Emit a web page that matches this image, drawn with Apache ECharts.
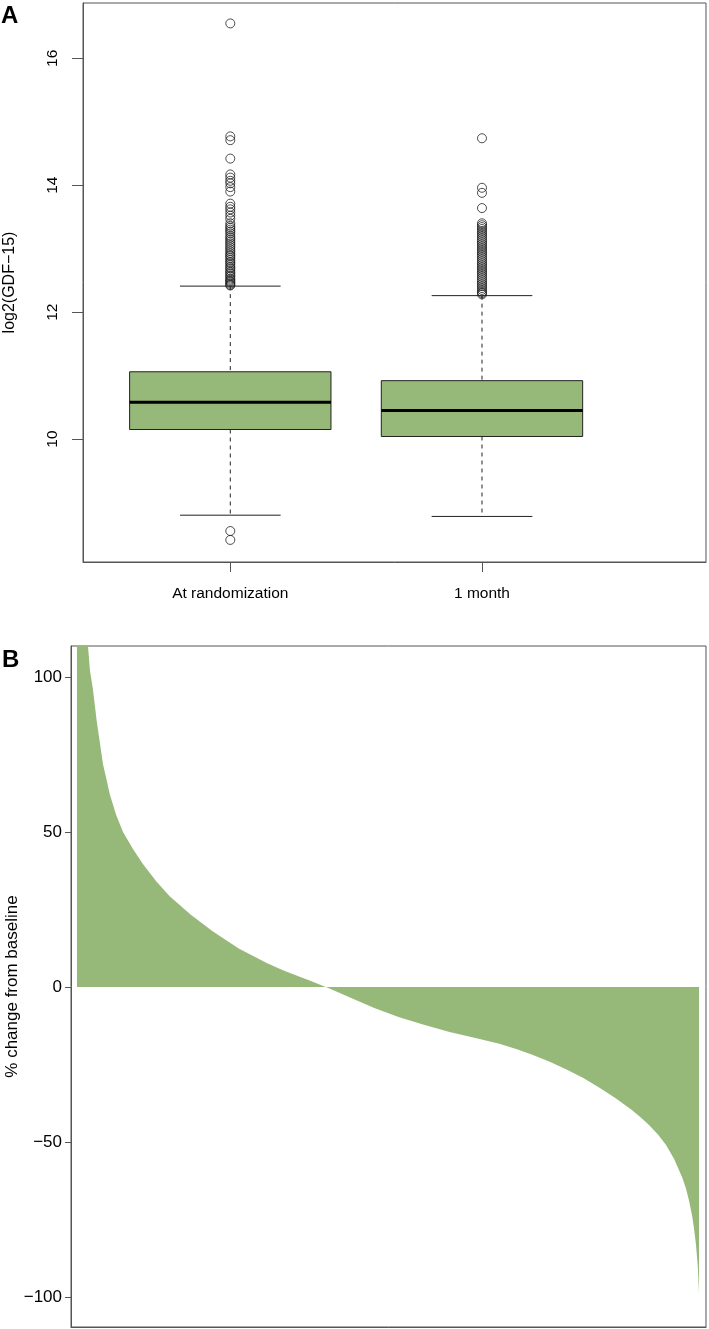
<!DOCTYPE html>
<html>
<head>
<meta charset="utf-8">
<script src="https://cdn.jsdelivr.net/npm/echarts@6/dist/echarts.min.js"></script>
<style>
html,body{margin:0;padding:0;background:#fff;}
#chart{width:709px;height:1329px;}
</style>
</head>
<body>
<div id="chart"></div>
<script>
// ---------- Panel A: log2(GDF-15) box plots ----------
const groupNames = ['At randomization', '1 month'];
const groupPos = [1, 2];
const lowerWhisker = [8.80, 8.78];
const q1 = [10.15, 10.04];
const median = [10.58, 10.45];
const q3 = [11.06, 10.92];
const upperWhisker = [12.41, 12.26];
const yTicksA = [10, 12, 14, 16];

const outliersRandomization = [16.55, 14.77, 14.71, 14.42, 14.17, 14.12, 14.07, 14.03, 13.97, 13.90,
  13.71, 13.66, 13.62, 13.57, 13.52, 13.47, 13.40, 13.36, 13.33, 13.30, 13.27, 13.24, 13.20,
  13.17, 13.14, 13.11, 13.08, 13.05, 13.02, 12.99, 12.96, 12.93, 12.90, 12.88, 12.85, 12.82,
  12.79, 12.77, 12.74, 12.71, 12.69, 12.66, 12.63, 12.61, 12.58, 12.56, 12.53, 12.51, 12.49,
  12.47, 12.45, 12.43, 12.42, 8.55, 8.41];
const outliers1Month = [14.74, 13.96, 13.88, 13.64, 13.40, 13.37, 13.34, 13.31, 13.28, 13.25,
  13.22, 13.19, 13.16, 13.13, 13.10, 13.07, 13.04, 13.01, 12.98, 12.95, 12.92, 12.89, 12.86,
  12.83, 12.80, 12.77, 12.74, 12.71, 12.68, 12.65, 12.62, 12.59, 12.56, 12.53, 12.50, 12.47,
  12.44, 12.41, 12.38, 12.35, 12.32, 12.30, 12.28];

// ---------- Panel B: sorted % change from baseline (rank as fraction of patients) ----------
const rankFraction = [0, 0.0048, 0.011, 0.0177, 0.0209, 0.0257, 0.0316, 0.0417, 0.053, 0.063,
  0.074, 0.090, 0.106, 0.127, 0.149, 0.183, 0.218, 0.260, 0.305, 0.332, 0.358, 0.374, 0.387,
  0.406, 0.438, 0.478, 0.518, 0.559, 0.599, 0.639, 0.679, 0.706, 0.732, 0.760, 0.787, 0.814,
  0.840, 0.866, 0.892, 0.906, 0.920, 0.934, 0.947, 0.960, 0.973, 0.979, 0.984, 0.989, 0.992,
  0.995, 0.998, 1.0];
const pctChange = [250, 160, 125, 110, 102, 96, 86, 72, 62, 55.5,
  50, 44.5, 39.7, 34.2, 29.3, 23.3, 18, 12.4, 7.7, 5.3, 3.3, 2.1, 1.0,
  -0.5, -3.3, -6.8, -9.8, -12.3, -14.5, -16.4, -18.3, -20.0, -21.9, -24.1, -26.6, -29.4,
  -32.5, -35.9, -39.7, -42, -44.6, -47.6, -51, -55.5, -61.5, -65, -69, -74, -78,
  -83, -90, -99];
const yTicksB = [-100, -50, 0, 50, 100];

const GREEN = '#96b878';
const AXIS_GRAY = '#555555';
const FONT = '"Liberation Sans", Arial, Helvetica, sans-serif';

const boxData = groupPos.map((p, i) => [p, lowerWhisker[i], q1[i], median[i], q3[i], upperWhisker[i]]);
const outlierData = [];
outliersRandomization.forEach(v => outlierData.push([groupPos[0], v]));
outliers1Month.forEach(v => outlierData.push([groupPos[1], v]));
const waterfall = rankFraction.map((r, i) => [r, pctChange[i]]);

const chart = echarts.init(document.getElementById('chart'), null, {renderer: 'canvas'});

const option = {
  animation: false,
  backgroundColor: '#ffffff',
  textStyle: {fontFamily: FONT},
  grid: [
    {left: 83, top: 3, width: 623, height: 559, containLabel: false, outerBoundsMode: 'none',
      show: true, borderColor: AXIS_GRAY, borderWidth: 1, backgroundColor: 'transparent'},
    {left: 71, top: 646, width: 635, height: 681, containLabel: false, outerBoundsMode: 'none',
      show: true, borderColor: AXIS_GRAY, borderWidth: 1, backgroundColor: 'transparent'}
  ],
  xAxis: [
    {
      type: 'value', gridIndex: 0, min: 0.4148, max: 2.890,
      splitLine: {show: false},
      axisLine: {show: true, onZero: false, lineStyle: {color: AXIS_GRAY, width: 1}},
      axisTick: {show: true, length: 10, customValues: groupPos, lineStyle: {color: AXIS_GRAY}},
      axisLabel: {
        show: true, customValues: groupPos, margin: 24, fontSize: 15.5, color: '#000',
        fontFamily: FONT,
        formatter: v => { const i = groupPos.indexOf(Math.round(v)); return i >= 0 ? groupNames[i] : ''; }
      }
    },
    {
      type: 'value', gridIndex: 1, min: -0.0096, max: 1.0112,
      splitLine: {show: false},
      axisLine: {show: true, onZero: false, lineStyle: {color: AXIS_GRAY, width: 1}},
      axisTick: {show: false}, axisLabel: {show: false}
    }
  ],
  yAxis: [
    {
      type: 'value', gridIndex: 0, min: 8.062, max: 16.872,
      name: 'log2(GDF\u221215)', nameLocation: 'middle', nameRotate: 90, nameGap: 65,
      nameMoveOverlap: false,
      nameTextStyle: {fontSize: 16, color: '#000', fontFamily: FONT},
      splitLine: {show: false},
      axisLine: {show: true, onZero: false, lineStyle: {color: AXIS_GRAY, width: 1}},
      axisTick: {show: true, length: 11, customValues: yTicksA, lineStyle: {color: AXIS_GRAY}},
      axisLabel: {show: true, customValues: yTicksA, rotate: 90, margin: 22, fontSize: 15.5, color: '#000', fontFamily: FONT}
    },
    {
      type: 'value', gridIndex: 1, min: -109.7, max: 110,
      name: '% change from baseline', nameLocation: 'middle', nameRotate: 90, nameGap: 50,
      nameMoveOverlap: false,
      nameTextStyle: {fontSize: 17, color: '#000', fontFamily: FONT},
      splitLine: {show: false},
      axisLine: {show: true, onZero: false, lineStyle: {color: AXIS_GRAY, width: 1}},
      axisTick: {show: true, length: 6, customValues: yTicksB, lineStyle: {color: AXIS_GRAY}},
      axisLabel: {
        show: true, customValues: yTicksB, margin: 9, fontSize: 17, color: '#000', fontFamily: FONT,
        formatter: v => (v < 0 ? '\u2212' + Math.abs(v) : String(v))
      }
    }
  ],
  graphic: [
    {type: 'text', left: 1, top: 4, style: {text: 'A', font: 'bold 24px ' + FONT, fill: '#000'}},
    {type: 'text', left: 2, top: 648, style: {text: 'B', font: 'bold 24px ' + FONT, fill: '#000'}}
  ],
  series: [
    {
      type: 'custom', xAxisIndex: 0, yAxisIndex: 0, data: boxData, z: 3,
      encode: {x: 0, y: [1, 2, 3, 4, 5]},
      renderItem: function (params, api) {
        const x = api.value(0);
        const pLo = api.coord([x, api.value(1)]);
        const pQ1 = api.coord([x, api.value(2)]);
        const pMed = api.coord([x, api.value(3)]);
        const pQ3 = api.coord([x, api.value(4)]);
        const pHi = api.coord([x, api.value(5)]);
        const halfBox = api.size([0.4, 0])[0];
        const halfCap = api.size([0.2, 0])[0];
        const dash = {stroke: '#222', lineWidth: 1, lineDash: [4, 4]};
        const solid = {stroke: '#222', lineWidth: 1};
        return {
          type: 'group',
          children: [
            {type: 'line', shape: {x1: pHi[0], y1: pHi[1], x2: pQ3[0], y2: pQ3[1]}, style: dash},
            {type: 'line', shape: {x1: pQ1[0], y1: pQ1[1], x2: pLo[0], y2: pLo[1]}, style: dash},
            {type: 'line', shape: {x1: pHi[0] - halfCap, y1: pHi[1], x2: pHi[0] + halfCap, y2: pHi[1]}, style: solid},
            {type: 'line', shape: {x1: pLo[0] - halfCap, y1: pLo[1], x2: pLo[0] + halfCap, y2: pLo[1]}, style: solid},
            {type: 'rect', shape: {x: pQ3[0] - halfBox, y: pQ3[1], width: halfBox * 2, height: pQ1[1] - pQ3[1]},
              style: {fill: GREEN, stroke: '#222', lineWidth: 1}},
            {type: 'line', shape: {x1: pMed[0] - halfBox, y1: pMed[1], x2: pMed[0] + halfBox, y2: pMed[1]},
              style: {stroke: '#000', lineWidth: 3.2}}
          ]
        };
      }
    },
    {
      type: 'scatter', xAxisIndex: 0, yAxisIndex: 0, data: outlierData, z: 4,
      symbol: 'circle', symbolSize: 9,
      itemStyle: {color: 'rgba(0,0,0,0)', borderColor: '#222', borderWidth: 1}
    },
    {
      type: 'line', xAxisIndex: 1, yAxisIndex: 1, data: waterfall, z: 2,
      showSymbol: false, symbol: 'none', smooth: false,
      lineStyle: {width: 0, color: GREEN},
      areaStyle: {color: GREEN, opacity: 1, origin: 0}
    }
  ]
};
chart.setOption(option);
</script>
</body>
</html>
